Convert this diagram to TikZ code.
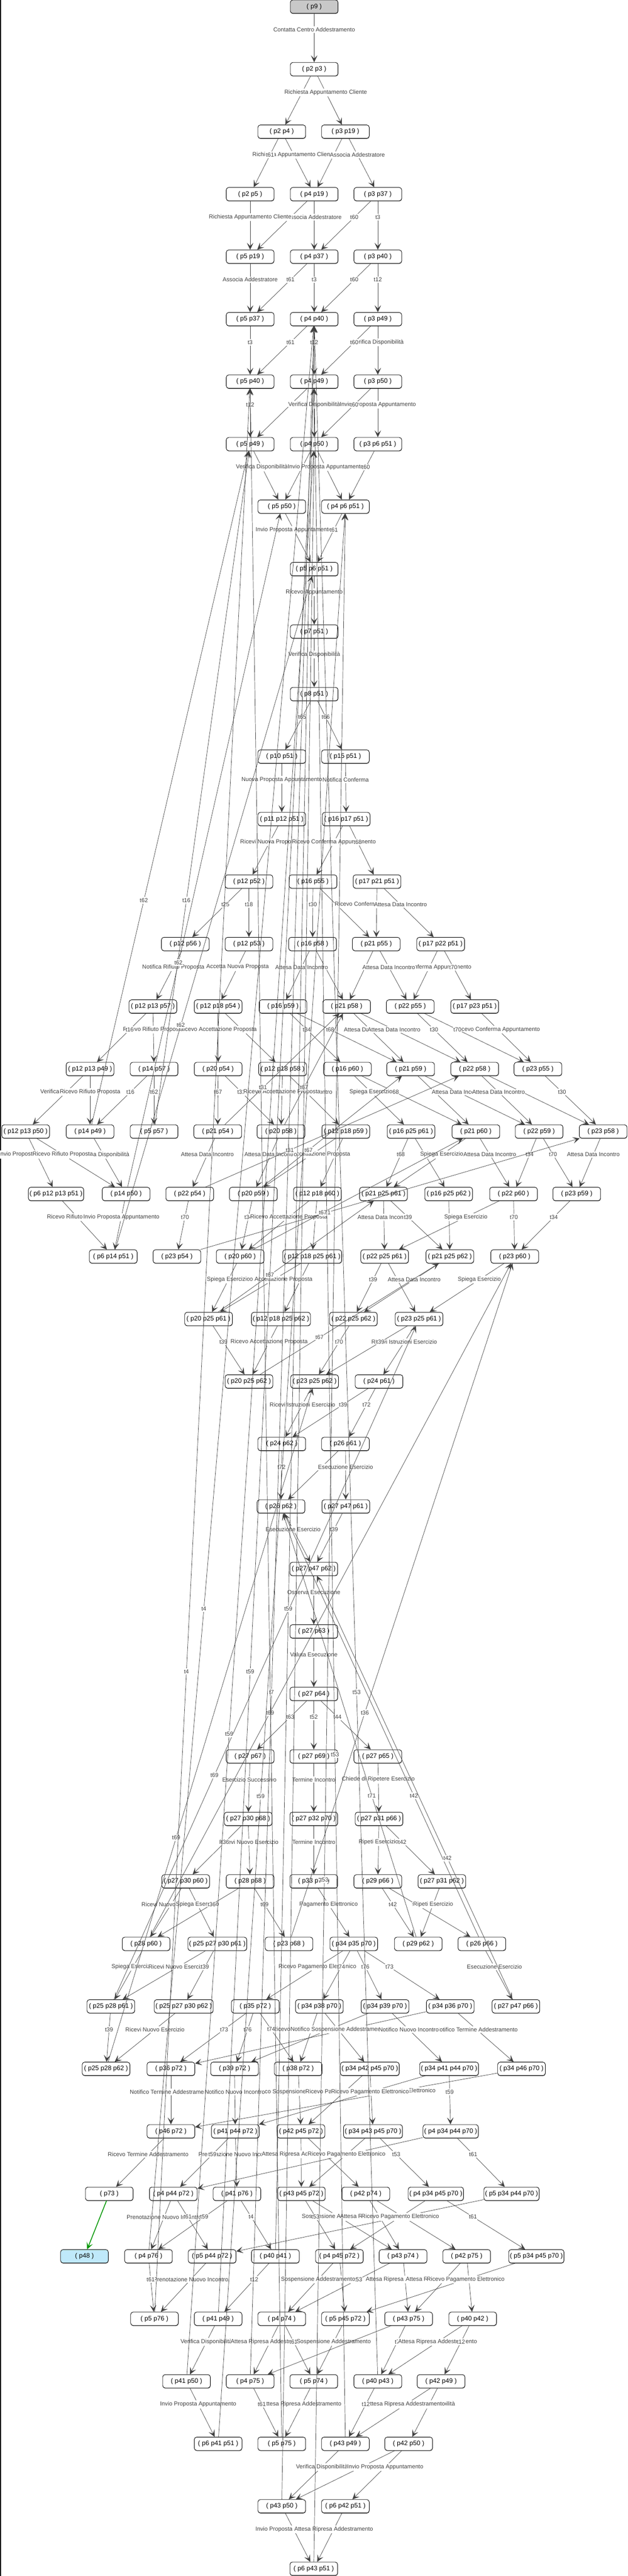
\documentclass[tikz,border=0pt]{standalone}
\usepackage{fontspec}
\setmainfont{Liberation Sans}
\usetikzlibrary{arrows.meta,shadows}
\definecolor{edgec}{RGB}{64,64,64}
\definecolor{lblc}{RGB}{64,64,64}
\definecolor{startc}{RGB}{200,200,200}
\definecolor{endc}{RGB}{191,233,250}
\definecolor{grn}{RGB}{0,150,0}
\tikzset{
 st/.style={draw=black, line width=1.1pt, rounded corners=6pt, fill=white, minimum width=118pt, minimum height=33pt, inner xsep=3pt, inner ysep=0pt, font=\fontsize{16}{16}\selectfont, drop shadow={shadow xshift=0.5pt, shadow yshift=-1.6pt, fill=black!40, opacity=1}},
 ed/.style={draw=edgec, line width=0.9pt, -{Stealth[length=17pt,width=16pt,inset=8pt]}},
 grnedge/.style={draw=grn, line width=2pt, -{Stealth[length=17pt,width=16pt,inset=8pt]}},
 lb/.style={pos=0.333, fill=white, text=lblc, inner xsep=0.5pt, inner ysep=3pt, font=\fontsize{14.3}{14.3}\selectfont},
}
\newcommand\stnode[5][]{\node[st,#1] (#2) at (#3,{154.5*#4+16.5}) {( #5 )};}
\newcommand\stedge[3]{\draw[ed] (#1) -- node[lb]{#3} (#2);}
\newcommand\stedgen[2]{\draw[ed] (#1) -- (#2);}
\begin{document}
\begin{tikzpicture}[x=0.9904pt,y=-1pt]
\useasboundingbox (0,0) rectangle (1568,6369);
\fill[black] (0,0) rectangle (2,6369);
% nodes
\stnode[fill=startc]{p9}{785}{0}{p9}
\stnode{p2p3}{785}{1}{p2 p3}
\stnode{p2p4}{704}{2}{p2 p4}
\stnode{p3p19}{863}{2}{p3 p19}
\stnode{p2p5}{625}{3}{p2 p5}
\stnode{p4p19}{785}{3}{p4 p19}
\stnode{p3p37}{944}{3}{p3 p37}
\stnode{p5p19}{625}{4}{p5 p19}
\stnode{p4p37}{785}{4}{p4 p37}
\stnode{p3p40}{944}{4}{p3 p40}
\stnode{p5p37}{625}{5}{p5 p37}
\stnode{p4p40}{785}{5}{p4 p40}
\stnode{p3p49}{944}{5}{p3 p49}
\stnode{p5p40}{625}{6}{p5 p40}
\stnode{p4p49}{785}{6}{p4 p49}
\stnode{p3p50}{944}{6}{p3 p50}
\stnode{p5p49}{625}{7}{p5 p49}
\stnode{p4p50}{785}{7}{p4 p50}
\stnode{p3p6p51}{944}{7}{p3 p6 p51}
\stnode{p5p50}{704}{8}{p5 p50}
\stnode{p4p6p51}{863}{8}{p4 p6 p51}
\stnode{p5p6p51}{785}{9}{p5 p6 p51}
\stnode{p7p51}{785}{10}{p7 p51}
\stnode{p8p51}{785}{11}{p8 p51}
\stnode{p10p51}{704}{12}{p10 p51}
\stnode{p15p51}{863}{12}{p15 p51}
\stnode{p11p12p51}{704}{13}{p11 p12 p51}
\stnode{p16p17p51}{865}{13}{p16 p17 p51}
\stnode{p12p52}{622}{14}{p12 p52}
\stnode{p16p55}{782}{14}{p16 p55}
\stnode{p17p21p51}{942}{14}{p17 p21 p51}
\stnode{p12p56}{463}{15}{p12 p56}
\stnode{p12p53}{622}{15}{p12 p53}
\stnode{p16p58}{781}{15}{p16 p58}
\stnode{p21p55}{940}{15}{p21 p55}
\stnode{p17p22p51}{1101}{15}{p17 p22 p51}
\stnode{p12p13p57}{382}{16}{p12 p13 p57}
\stnode{p12p18p54}{545}{16}{p12 p18 p54}
\stnode{p16p59}{707}{16}{p16 p59}
\stnode{p21p58}{866}{16}{p21 p58}
\stnode{p22p55}{1025}{16}{p22 p55}
\stnode{p17p23p51}{1186}{16}{p17 p23 p51}
\stnode{p12p13p49}{225}{17}{p12 p13 p49}
\stnode{p14p57}{385}{17}{p14 p57}
\stnode{p20p54}{545}{17}{p20 p54}
\stnode{p12p18p58}{706}{17}{p12 p18 p58}
\stnode{p16p60}{868}{17}{p16 p60}
\stnode{p21p59}{1026}{17}{p21 p59}
\stnode{p22p58}{1186}{17}{p22 p58}
\stnode{p23p55}{1344}{17}{p23 p55}
\stnode{p12p13p50}{64}{18}{p12 p13 p50}
\stnode{p14p49}{225}{18}{p14 p49}
\stnode{p5p57}{385}{18}{p5 p57}
\stnode{p21p54}{544}{18}{p21 p54}
\stnode{p20p58}{702}{18}{p20 p58}
\stnode{p12p18p59}{864}{18}{p12 p18 p59}
\stnode{p16p25p61}{1027}{18}{p16 p25 p61}
\stnode{p21p60}{1189}{18}{p21 p60}
\stnode{p22p59}{1347}{18}{p22 p59}
\stnode{p23p58}{1507}{18}{p23 p58}
\stnode{p6p12p13p51}{140}{19}{p6 p12 p13 p51}
\stnode{p14p50}{315}{19}{p14 p50}
\stnode{p22p54}{474}{19}{p22 p54}
\stnode{p20p59}{633}{19}{p20 p59}
\stnode{p12p18p60}{793}{19}{p12 p18 p60}
\stnode{p21p25p61}{958}{19}{p21 p25 p61}
\stnode{p16p25p62}{1121}{19}{p16 p25 p62}
\stnode{p22p60}{1283}{19}{p22 p60}
\stnode{p23p59}{1441}{19}{p23 p59}
\stnode{p6p14p51}{283}{20}{p6 p14 p51}
\stnode{p23p54}{442}{20}{p23 p54}
\stnode{p20p60}{600}{20}{p20 p60}
\stnode{p12p18p25p61}{780}{20}{p12 p18 p25 p61}
\stnode{p22p25p61}{961}{20}{p22 p25 p61}
\stnode{p21p25p62}{1124}{20}{p21 p25 p62}
\stnode{p23p60}{1286}{20}{p23 p60}
\stnode{p20p25p61}{521}{21}{p20 p25 p61}
\stnode{p12p18p25p62}{702}{21}{p12 p18 p25 p62}
\stnode{p22p25p62}{883}{21}{p22 p25 p62}
\stnode{p23p25p61}{1047}{21}{p23 p25 p61}
\stnode{p20p25p62}{622}{22}{p20 p25 p62}
\stnode{p23p25p62}{786}{22}{p23 p25 p62}
\stnode{p24p61}{947}{22}{p24 p61}
\stnode{p24p62}{704}{23}{p24 p62}
\stnode{p26p61}{863}{23}{p26 p61}
\stnode{p26p62}{702}{24}{p26 p62}
\stnode{p27p47p61}{864}{24}{p27 p47 p61}
\stnode{p27p47p62}{784}{25}{p27 p47 p62}
\stnode{p27p63}{784}{26}{p27 p63}
\stnode{p27p64}{784}{27}{p27 p64}
\stnode{p27p67}{625}{28}{p27 p67}
\stnode{p27p69}{784}{28}{p27 p69}
\stnode{p27p65}{944}{28}{p27 p65}
\stnode{p27p30p68}{620}{29}{p27 p30 p68}
\stnode{p27p32p70}{784}{29}{p27 p32 p70}
\stnode{p27p31p66}{947}{29}{p27 p31 p66}
\stnode{p27p30p60}{464}{30}{p27 p30 p60}
\stnode{p28p68}{625}{30}{p28 p68}
\stnode{p33p70}{784}{30}{p33 p70}
\stnode{p29p66}{944}{30}{p29 p66}
\stnode{p27p31p62}{1104}{30}{p27 p31 p62}
\stnode{p28p60}{365}{31}{p28 p60}
\stnode{p25p27p30p61}{543}{31}{p25 p27 p30 p61}
\stnode{p23p68}{722}{31}{p23 p68}
\stnode{p34p35p70}{884}{31}{p34 p35 p70}
\stnode{p29p62}{1045}{31}{p29 p62}
\stnode{p26p66}{1204}{31}{p26 p66}
\stnode{p25p28p61}{277}{32}{p25 p28 p61}
\stnode{p25p27p30p62}{459}{32}{p25 p27 p30 p62}
\stnode{p35p72}{638}{32}{p35 p72}
\stnode{p34p38p70}{798}{32}{p34 p38 p70}
\stnode{p34p39p70}{962}{32}{p34 p39 p70}
\stnode{p34p36p70}{1125}{32}{p34 p36 p70}
\stnode{p27p47p66}{1289}{32}{p27 p47 p66}
\stnode{p25p28p62}{265}{33}{p25 p28 p62}
\stnode{p36p72}{427}{33}{p36 p72}
\stnode{p39p72}{586}{33}{p39 p72}
\stnode{p38p72}{745}{33}{p38 p72}
\stnode{p34p42p45p70}{924}{33}{p34 p42 p45 p70}
\stnode{p34p41p44p70}{1122}{33}{p34 p41 p44 p70}
\stnode{p34p46p70}{1303}{33}{p34 p46 p70}
\stnode{p46p72}{427}{34}{p46 p72}
\stnode{p41p44p72}{588}{34}{p41 p44 p72}
\stnode{p42p45p72}{752}{34}{p42 p45 p72}
\stnode{p34p43p45p70}{932}{34}{p34 p43 p45 p70}
\stnode{p4p34p44p70}{1126}{34}{p4 p34 p44 p70}
\stnode{p73}{273}{35}{p73}
\stnode{p4p44p72}{433}{35}{p4 p44 p72}
\stnode{p41p76}{592}{35}{p41 p76}
\stnode{p43p45p72}{753}{35}{p43 p45 p72}
\stnode{p42p74}{914}{35}{p42 p74}
\stnode{p4p34p45p70}{1089}{35}{p4 p34 p45 p70}
\stnode{p5p34p44p70}{1278}{35}{p5 p34 p44 p70}
\stnode[fill=endc]{p48}{211}{36}{p48}
\stnode{p4p76}{371}{36}{p4 p76}
\stnode{p5p44p72}{530}{36}{p5 p44 p72}
\stnode{p40p41}{688}{36}{p40 p41}
\stnode{p4p45p72}{848}{36}{p4 p45 p72}
\stnode{p43p74}{1007}{36}{p43 p74}
\stnode{p42p75}{1166}{36}{p42 p75}
\stnode{p5p34p45p70}{1340}{36}{p5 p34 p45 p70}
\stnode{p5p76}{386}{37}{p5 p76}
\stnode{p41p49}{545}{37}{p41 p49}
\stnode{p4p74}{704}{37}{p4 p74}
\stnode{p5p45p72}{863}{37}{p5 p45 p72}
\stnode{p43p75}{1021}{37}{p43 p75}
\stnode{p40p42}{1181}{37}{p40 p42}
\stnode{p41p50}{466}{38}{p41 p50}
\stnode{p4p75}{625}{38}{p4 p75}
\stnode{p5p74}{784}{38}{p5 p74}
\stnode{p40p43}{944}{38}{p40 p43}
\stnode{p42p49}{1102}{38}{p42 p49}
\stnode{p6p41p51}{545}{39}{p6 p41 p51}
\stnode{p5p75}{704}{39}{p5 p75}
\stnode{p43p49}{863}{39}{p43 p49}
\stnode{p42p50}{1021}{39}{p42 p50}
\stnode{p43p50}{704}{40}{p43 p50}
\stnode{p6p42p51}{863}{40}{p6 p42 p51}
\stnode{p6p43p51}{784}{41}{p6 p43 p51}
% forward edges
\stedge{p9}{p2p3}{Contatta Centro Addestramento}
\stedgen{p2p3}{p2p4}
\stedge{p2p3}{p3p19}{Richiesta Appuntamento Cliente}
\stedgen{p3p19}{p4p19}
\stedge{p2p4}{p4p19}{Richiesta Appuntamento Cliente}
\stedge{p2p4}{p2p5}{t61}
\stedge{p3p19}{p3p37}{Associa Addestratore}
\stedgen{p4p19}{p5p19}
\stedge{p4p19}{p4p37}{Associa Addestratore}
\stedge{p2p5}{p5p19}{Richiesta Appuntamento Cliente}
\stedge{p3p37}{p4p37}{t60}
\stedge{p3p37}{p3p40}{t3}
\stedge{p5p19}{p5p37}{Associa Addestratore}
\stedge{p4p37}{p5p37}{t61}
\stedge{p4p37}{p4p40}{t3}
\stedge{p3p40}{p4p40}{t60}
\stedge{p3p40}{p3p49}{t12}
\stedge{p5p37}{p5p40}{t3}
\stedge{p4p40}{p5p40}{t61}
\stedge{p4p40}{p4p49}{t12}
\stedge{p3p49}{p3p50}{Verifica Disponibilità}
\stedge{p3p49}{p4p49}{t60}
\stedge{p5p40}{p5p49}{t12}
\stedgen{p4p49}{p5p49}
\stedge{p4p49}{p4p50}{Verifica Disponibilità}
\stedge{p3p50}{p3p6p51}{Invio Proposta Appuntamento}
\stedge{p3p50}{p4p50}{t60}
\stedge{p5p49}{p5p50}{Verifica Disponibilità}
\stedgen{p4p50}{p5p50}
\stedge{p4p50}{p4p6p51}{Invio Proposta Appuntamento}
\stedge{p3p6p51}{p4p6p51}{t60}
\stedge{p5p50}{p5p6p51}{Invio Proposta Appuntamento}
\stedge{p4p6p51}{p5p6p51}{t61}
\stedge{p5p6p51}{p7p51}{Ricevo Appuntamento}
\stedge{p7p51}{p8p51}{Verifica Disponibilità}
\stedge{p8p51}{p10p51}{t65}
\stedge{p8p51}{p15p51}{t66}
\stedge{p10p51}{p11p12p51}{Nuova Proposta Appuntamento}
\stedge{p15p51}{p16p17p51}{Notifica Conferma}
\stedge{p11p12p51}{p12p52}{Ricevi Nuova Proposta}
\stedge{p16p17p51}{p16p55}{Ricevo Conferma Appuntamento}
\stedge{p16p17p51}{p17p21p51}{t68}
\stedge{p12p52}{p12p56}{t25}
\stedge{p12p52}{p12p53}{t18}
\stedge{p16p55}{p16p58}{t30}
\stedgen{p16p55}{p21p55}
\stedge{p17p21p51}{p21p55}{Ricevo Conferma Appuntamento}
\stedge{p17p21p51}{p17p22p51}{Attesa Data Incontro}
\stedge{p12p56}{p12p13p57}{Notifica Rifiuto Proposta}
\stedge{p12p53}{p12p18p54}{Accetta Nuova Proposta}
\stedgen{p16p58}{p21p58}
\stedge{p16p58}{p16p59}{Attesa Data Incontro}
\stedgen{p21p55}{p21p58}
\stedge{p17p22p51}{p22p55}{Ricevo Conferma Appuntamento}
\stedge{p21p55}{p22p55}{Attesa Data Incontro}
\stedge{p17p22p51}{p17p23p51}{t70}
\stedgen{p12p18p54}{p12p18p58}
\stedge{p12p18p54}{p20p54}{Ricevo Accettazione Proposta}
\stedge{p12p13p57}{p14p57}{Ricevo Rifiuto Proposta}
\stedge{p12p13p57}{p12p13p49}{t16}
\stedge{p16p59}{p16p60}{t34}
\stedge{p16p59}{p21p59}{t68}
\stedge{p21p58}{p21p59}{Attesa Data Incontro}
\stedge{p21p58}{p22p58}{Attesa Data Incontro}
\stedge{p22p55}{p22p58}{t30}
\stedge{p17p23p51}{p23p55}{Ricevo Conferma Appuntamento}
\stedge{p22p55}{p23p55}{t70}
\stedge{p12p13p49}{p12p13p50}{Verifica Disponibilità}
\stedge{p12p13p49}{p14p49}{Ricevo Rifiuto Proposta}
\stedge{p14p57}{p14p49}{t16}
\stedge{p14p57}{p5p57}{t62}
\stedge{p20p54}{p21p54}{t67}
\stedge{p20p54}{p20p58}{t31}
\stedge{p12p18p58}{p12p18p59}{Attesa Data Incontro}
\stedge{p12p18p58}{p20p58}{Ricevo Accettazione Proposta}
\stedge{p16p60}{p21p60}{t68}
\stedge{p16p60}{p16p25p61}{Spiega Esercizio}
\stedgen{p21p59}{p21p60}
\stedge{p21p59}{p22p59}{Attesa Data Incontro}
\stedgen{p22p58}{p23p58}
\stedge{p22p58}{p22p59}{Attesa Data Incontro}
\stedge{p23p55}{p23p58}{t30}
\stedge{p14p49}{p14p50}{Verifica Disponibilità}
\stedge{p12p13p50}{p6p12p13p51}{Invio Proposta Appuntamento}
\stedge{p12p13p50}{p14p50}{Ricevo Rifiuto Proposta}
\stedge{p21p54}{p22p54}{Attesa Data Incontro}
\stedgen{p12p18p59}{p12p18p60}
\stedge{p12p18p59}{p20p59}{Ricevo Accettazione Proposta}
\stedge{p20p58}{p20p59}{Attesa Data Incontro}
\stedgen{p16p25p61}{p16p25p62}
\stedge{p16p25p61}{p21p25p61}{t68}
\stedge{p21p60}{p21p25p61}{Spiega Esercizio}
\stedge{p21p60}{p22p60}{Attesa Data Incontro}
\stedge{p22p59}{p22p60}{t34}
\stedge{p22p59}{p23p59}{t70}
\stedge{p23p58}{p23p59}{Attesa Data Incontro}
\stedge{p6p12p13p51}{p6p14p51}{Ricevo Rifiuto Proposta}
\stedge{p14p50}{p6p14p51}{Invio Proposta Appuntamento}
\stedge{p22p54}{p23p54}{t70}
\stedgen{p12p18p60}{p12p18p25p61}
\stedge{p20p59}{p20p60}{t34}
\stedge{p12p18p60}{p20p60}{Ricevo Accettazione Proposta}
\stedge{p21p25p61}{p22p25p61}{Attesa Data Incontro}
\stedge{p21p25p61}{p21p25p62}{t39}
\stedgen{p16p25p62}{p21p25p62}
\stedge{p22p60}{p22p25p61}{Spiega Esercizio}
\stedge{p22p60}{p23p60}{t70}
\stedge{p23p59}{p23p60}{t34}
\stedgen{p12p18p25p61}{p12p18p25p62}
\stedge{p12p18p25p61}{p20p25p61}{Ricevo Accettazione Proposta}
\stedge{p20p60}{p20p25p61}{Spiega Esercizio}
\stedgen{p22p25p61}{p23p25p61}
\stedge{p22p25p61}{p22p25p62}{t39}
\stedge{p21p25p62}{p22p25p62}{Attesa Data Incontro}
\stedge{p23p60}{p23p25p61}{Spiega Esercizio}
\stedge{p20p25p61}{p20p25p62}{t39}
\stedge{p12p18p25p62}{p20p25p62}{Ricevo Accettazione Proposta}
\stedge{p22p25p62}{p23p25p62}{t70}
\stedge{p23p25p61}{p24p61}{Ricevi Istruzioni Esercizio}
\stedge{p23p25p61}{p23p25p62}{t39}
\stedge{p23p25p62}{p24p62}{Ricevi Istruzioni Esercizio}
\stedge{p24p61}{p24p62}{t39}
\stedge{p24p61}{p26p61}{t72}
\stedge{p24p62}{p26p62}{t72}
\stedgen{p26p61}{p26p62}
\stedge{p26p61}{p27p47p61}{Esecuzione Esercizio}
\stedge{p26p62}{p27p47p62}{Esecuzione Esercizio}
\stedge{p27p47p61}{p27p47p62}{t39}
\stedge{p27p47p62}{p27p63}{Osserva Esecuzione}
\stedge{p27p63}{p27p64}{Valuta Esecuzione}
\stedge{p27p64}{p27p67}{t63}
\stedge{p27p64}{p27p69}{t52}
\stedge{p27p64}{p27p65}{t44}
\stedge{p27p67}{p27p30p68}{Esercizio Successivo}
\stedge{p27p69}{p27p32p70}{Termine Incontro}
\stedge{p27p65}{p27p31p66}{Chiede di Ripetere Esercizio}
\stedge{p27p30p68}{p28p68}{Ricevi Nuovo Esercizio}
\stedge{p27p30p68}{p27p30p60}{t36}
\stedge{p27p32p70}{p33p70}{Termine Incontro}
\stedge{p27p31p66}{p29p66}{Ripeti Esercizio}
\stedge{p27p31p66}{p27p31p62}{t42}
\stedge{p27p30p60}{p28p60}{Ricevi Nuovo Esercizio}
\stedge{p27p30p60}{p25p27p30p61}{Spiega Esercizio}
\stedge{p28p68}{p28p60}{t36}
\stedge{p28p68}{p23p68}{t69}
\stedge{p33p70}{p34p35p70}{Pagamento Elettronico}
\stedge{p29p66}{p29p62}{t42}
\stedge{p29p66}{p26p66}{t71}
\stedge{p27p31p62}{p29p62}{Ripeti Esercizio}
\stedge{p28p60}{p25p28p61}{Spiega Esercizio}
\stedge{p25p27p30p61}{p25p28p61}{Ricevi Nuovo Esercizio}
\stedge{p25p27p30p61}{p25p27p30p62}{t39}
\stedge{p34p35p70}{p35p72}{Ricevo Pagamento Elettronico}
\stedge{p34p35p70}{p34p38p70}{t74}
\stedge{p34p35p70}{p34p39p70}{t76}
\stedge{p34p35p70}{p34p36p70}{t73}
\stedge{p26p66}{p27p47p66}{Esecuzione Esercizio}
\stedge{p25p28p61}{p25p28p62}{t39}
\stedge{p25p27p30p62}{p25p28p62}{Ricevi Nuovo Esercizio}
\stedge{p35p72}{p36p72}{t73}
\stedge{p35p72}{p39p72}{t76}
\stedge{p34p36p70}{p36p72}{Ricevo Pagamento Elettronico}
\stedge{p34p39p70}{p39p72}{Ricevo Pagamento Elettronico}
\stedge{p34p38p70}{p38p72}{Ricevo Pagamento Elettronico}
\stedge{p35p72}{p38p72}{t74}
\stedge{p34p38p70}{p34p42p45p70}{Notifico Sospensione Addestramento}
\stedge{p34p36p70}{p34p46p70}{Notifico Termine Addestramento}
\stedge{p34p39p70}{p34p41p44p70}{Notifico Nuovo Incontro}
\stedge{p36p72}{p46p72}{Notifico Termine Addestramento}
\stedge{p38p72}{p42p45p72}{Notifico Sospensione Addestramento}
\stedge{p39p72}{p41p44p72}{Notifico Nuovo Incontro}
\stedgen{p34p42p45p70}{p34p43p45p70}
\stedge{p34p42p45p70}{p42p45p72}{Ricevo Pagamento Elettronico}
\stedge{p34p46p70}{p46p72}{Ricevo Pagamento Elettronico}
\stedge{p34p41p44p70}{p41p44p72}{Ricevo Pagamento Elettronico}
\stedge{p34p41p44p70}{p4p34p44p70}{t59}
\stedge{p46p72}{p73}{Ricevo Termine Addestramento}
\stedge{p41p44p72}{p41p76}{Prenotazione Nuovo Incontro}
\stedge{p41p44p72}{p4p44p72}{t59}
\stedgen{p42p45p72}{p42p74}
\stedge{p42p45p72}{p43p45p72}{Attesa Ripresa Addestramento}
\stedgen{p4p34p44p70}{p4p44p72}
\stedge{p34p43p45p70}{p43p45p72}{Ricevo Pagamento Elettronico}
\stedge{p34p43p45p70}{p4p34p45p70}{t53}
\stedge{p4p34p44p70}{p5p34p44p70}{t61}
\stedge{p4p44p72}{p4p76}{Prenotazione Nuovo Incontro}
\stedge{p4p44p72}{p5p44p72}{t61}
\stedge{p41p76}{p4p76}{t59}
\stedge{p41p76}{p40p41}{t4}
\stedge{p43p45p72}{p43p74}{Sospensione Addestramento}
\stedge{p43p45p72}{p4p45p72}{t53}
\stedgen{p42p74}{p42p75}
\stedge{p42p74}{p43p74}{Attesa Ripresa Addestramento}
\stedgen{p5p34p44p70}{p5p44p72}
\stedge{p4p34p45p70}{p4p45p72}{Ricevo Pagamento Elettronico}
\stedge{p4p34p45p70}{p5p34p45p70}{t61}
\stedge{p5p44p72}{p5p76}{Prenotazione Nuovo Incontro}
\stedge{p4p76}{p5p76}{t61}
\stedge{p40p41}{p41p49}{t12}
\stedgen{p4p45p72}{p5p45p72}
\stedge{p43p74}{p4p74}{t53}
\stedge{p4p45p72}{p4p74}{Sospensione Addestramento}
\stedge{p43p74}{p43p75}{Attesa Ripresa Addestramento}
\stedgen{p42p75}{p40p42}
\stedge{p42p75}{p43p75}{Attesa Ripresa Addestramento}
\stedge{p5p34p45p70}{p5p45p72}{Ricevo Pagamento Elettronico}
\stedge{p41p49}{p41p50}{Verifica Disponibilità}
\stedge{p4p74}{p4p75}{Attesa Ripresa Addestramento}
\stedge{p4p74}{p5p74}{t61}
\stedge{p5p45p72}{p5p74}{Sospensione Addestramento}
\stedgen{p43p75}{p4p75}
\stedge{p43p75}{p40p43}{t7}
\stedge{p40p42}{p40p43}{Attesa Ripresa Addestramento}
\stedge{p40p42}{p42p49}{t12}
\stedge{p41p50}{p6p41p51}{Invio Proposta Appuntamento}
\stedge{p5p74}{p5p75}{Attesa Ripresa Addestramento}
\stedge{p4p75}{p5p75}{t61}
\stedge{p42p49}{p42p50}{Verifica Disponibilità}
\stedge{p42p49}{p43p49}{Attesa Ripresa Addestramento}
\stedge{p40p43}{p43p49}{t12}
\stedge{p43p49}{p43p50}{Verifica Disponibilità}
\stedgen{p42p50}{p43p50}
\stedge{p42p50}{p6p42p51}{Invio Proposta Appuntamento}
\stedge{p43p50}{p6p43p51}{Invio Proposta Appuntamento}
\stedge{p6p42p51}{p6p43p51}{Attesa Ripresa Addestramento}
\draw[grnedge] (p73) -- (p48);
% back edges
\stedge{p14p49}{p5p49}{t62}
\stedge{p5p57}{p5p49}{t16}
\stedge{p14p50}{p5p50}{t62}
\stedge{p6p14p51}{p5p6p51}{t62}
\stedge{p20p58}{p21p58}{t67}
\stedge{p21p54}{p21p58}{t31}
\stedge{p22p54}{p22p58}{t31}
\stedge{p20p59}{p21p59}{t67}
\stedge{p23p54}{p23p58}{t31}
\stedge{p20p60}{p21p60}{t67}
\stedge{p20p25p61}{p21p25p61}{t67}
\stedge{p20p25p62}{p21p25p62}{t67}
\stedge{p26p66}{p26p62}{t42}
\stedge{p27p47p66}{p27p47p62}{t42}
\stedge{p29p62}{p26p62}{t71}
\stedge{p23p68}{p23p60}{t36}
\stedge{p28p60}{p23p60}{t69}
\stedge{p25p28p61}{p23p25p61}{t69}
\stedge{p25p28p62}{p23p25p62}{t69}
\stedge{p6p43p51}{p4p6p51}{t53}
\stedgen{p43p50}{p4p50}
\stedge{p43p49}{p4p49}{t53}
\stedge{p40p43}{p4p40}{t53}
\stedge{p41p49}{p4p49}{t59}
\stedge{p41p50}{p4p50}{t59}
\stedge{p6p41p51}{p4p6p51}{t59}
\stedge{p40p41}{p4p40}{t59}
\stedge{p4p76}{p4p40}{t4}
\stedge{p5p76}{p5p40}{t4}
\stedge{p4p75}{p4p40}{t7}
\stedgen{p5p75}{p5p40}
\end{tikzpicture}
\end{document}
